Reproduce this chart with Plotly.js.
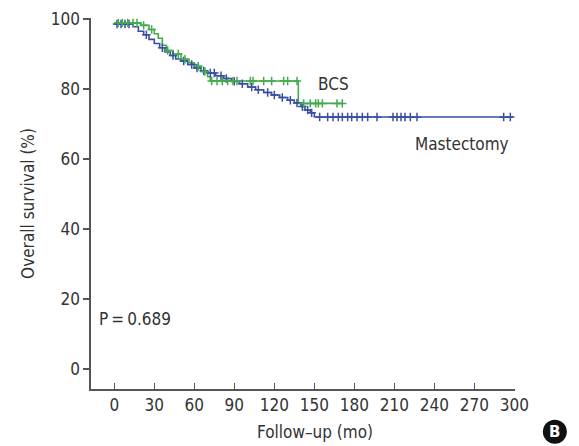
<!DOCTYPE html>
<html>
<head>
<meta charset="utf-8">
<script src="https://cdn.plot.ly/plotly-3.0.1.min.js"></script>
<style>html,body{margin:0;padding:0;background:#fff;}#chart{width:579px;height:446px;}</style>
</head>
<body>
<div id="chart"></div>
<script>
// Mastectomy (blue) step curve: event times (mo) and survival after each step (%)
var mastTimes = [0, 14, 18, 22, 26, 30, 34, 38, 42, 46, 50, 55, 60, 65, 70, 76, 82, 88, 94, 100, 106, 112, 118, 124, 130, 135, 140, 143, 147, 150, 299];
var mastSurv  = [98.6, 97.8, 96.5, 95.5, 94.2, 93.0, 91.8, 90.6, 89.6, 88.6, 88.0, 87.0, 86.0, 85.2, 84.6, 83.8, 83.0, 82.2, 81.5, 80.6, 79.8, 79.0, 78.3, 77.6, 76.8, 76.0, 75.0, 74.0, 73.2, 72.0, 72.0];
var mastCensor = [2, 5, 8, 11, 24, 36, 44, 52, 58, 62, 67, 72, 75, 80, 84, 90, 96, 103, 108, 115, 120, 126, 132, 137, 141, 145, 148,
                  154, 160, 164, 168, 171, 175, 178, 182, 186, 190, 197, 209, 212, 215, 218, 222, 227, 292, 297];

// BCS (green) step curve
var bcsTimes = [0, 20, 26, 30, 33, 36, 39, 44, 50, 56, 60, 65, 70, 72, 138, 171];
var bcsSurv  = [98.9, 98.2, 97.0, 95.8, 94.5, 92.5, 91.0, 90.0, 88.5, 87.5, 86.5, 85.0, 83.5, 82.3, 75.9, 75.9];
var bcsCensor = [3, 6, 10, 14, 17, 22, 28, 40, 48, 53, 63, 68, 73, 77, 81, 85, 89, 92, 102, 104, 112, 118, 127, 130, 137,
                 142, 147, 151, 153, 156, 167, 171];

var xTicks = [0, 30, 60, 90, 120, 150, 180, 210, 240, 270, 300];
var yTicks = [0, 20, 40, 60, 80, 100];

var blue = '#3b4ea3', green = '#44ab4d';
var FONT = '"Liberation Sans Narrow", "DejaVu Sans Condensed", Roboto, sans-serif';
var FS = 17;

function survAt(times, surv, t) {
  var s = surv[0];
  for (var i = 0; i < times.length; i++) { if (times[i] <= t) s = surv[i]; }
  return s;
}

var traces = [
  {x: mastTimes, y: mastSurv, mode: 'lines', line: {color: blue, width: 1.6, shape: 'hv'}, hoverinfo: 'skip'},
  {x: bcsTimes, y: bcsSurv, mode: 'lines', line: {color: green, width: 1.6, shape: 'hv'}, hoverinfo: 'skip'},
  {x: mastCensor, y: mastCensor.map(function(t){return survAt(mastTimes, mastSurv, t);}), mode: 'markers',
   marker: {symbol: 'cross-thin-open', size: 6, line: {color: blue, width: 1.5}, color: blue}},
  {x: bcsCensor, y: bcsCensor.map(function(t){return survAt(bcsTimes, bcsSurv, t);}), mode: 'markers',
   marker: {symbol: 'cross-thin-open', size: 6, line: {color: green, width: 1.5}, color: green}}
];

var layout = {
  width: 579, height: 446,
  margin: {l: 91, r: 64, t: 18, b: 57},
  paper_bgcolor: '#fff', plot_bgcolor: '#fff',
  showlegend: false,
  font: {family: FONT, size: FS, color: '#333'},
  xaxis: {
    range: [-17.5, 300.5], tickvals: xTicks, ticktext: xTicks.map(String),
    ticks: 'inside', ticklen: 6, tickwidth: 1.3, tickcolor: '#555',
    showline: true, linecolor: '#555', linewidth: 1.6, showgrid: false, zeroline: false,
    tickfont: {family: FONT, size: FS, color: '#333'}
  },
  yaxis: {
    range: [-5.7, 100.3], tickvals: yTicks, ticktext: yTicks.map(String),
    ticks: 'outside', ticklen: 6, tickwidth: 1.3, tickcolor: '#555',
    showline: true, linecolor: '#555', linewidth: 1.6, showgrid: false, zeroline: false,
    tickfont: {family: FONT, size: FS, color: '#333'},
    title: {text: 'Overall survival (%)', font: {family: FONT, size: FS, color: '#333'}, standoff: 12}
  },
  annotations: [
    {x: 0.528, y: -0.116, xref: 'paper', yref: 'paper', xanchor: 'center', yanchor: 'middle', text: 'Follow\u2013up (mo)', showarrow: false, font: {family: FONT, size: FS, color: '#333'}},
    {x: 164, y: 81.4, xref: 'x', yref: 'y', text: 'BCS', showarrow: false, font: {family: FONT, size: FS, color: '#333'}},
    {x: 261, y: 64.3, xref: 'x', yref: 'y', text: 'Mastectomy', showarrow: false, font: {family: FONT, size: FS, color: '#333'}},
    {x: -13, y: 14.3, xref: 'x', yref: 'y', xanchor: 'left', text: 'P\u2009=\u20090.689', showarrow: false, font: {family: FONT, size: FS, color: '#333'}},
    {x: 1.094, y: -0.115, xref: 'paper', yref: 'paper', xanchor: 'center', yanchor: 'middle', text: '<b>B</b>', showarrow: false, font: {family: 'DejaVu Sans', size: 15, color: '#fff'}}
  ],
  shapes: [
    {type: 'circle', xref: 'paper', yref: 'paper', xsizemode: 'pixel', ysizemode: 'pixel',
     xanchor: 1.094, yanchor: -0.115, x0: -12, x1: 12, y0: -12, y1: 12,
     fillcolor: '#111', line: {width: 0}}
  ]
};

Plotly.newPlot('chart', traces, layout, {displayModeBar: false, staticPlot: true});
</script>
</body>
</html>
